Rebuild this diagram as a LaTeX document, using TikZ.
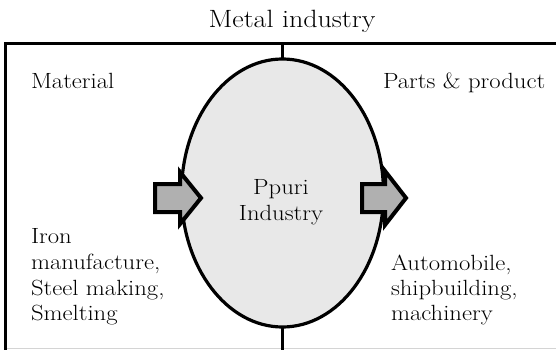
\documentclass[tikz,border=0pt]{standalone}
\usepackage{fontspec}
\setmainfont{Latin Modern Roman}[FakeStretch=1.12]
\usetikzlibrary{shapes.geometric}
\definecolor{corefill}{HTML}{E8E8E8}
\definecolor{arrowfill}{HTML}{B0B0B0}
\definecolor{edgegray}{HTML}{D4D4D4}
\begin{document}
\begin{tikzpicture}[x=1pt,y=-1pt,
  frame/.style={line width=3pt,miter limit=10},
  label/.style={inner sep=0pt,outer sep=0pt,align=left,
    font=\fontsize{22}{25.5}\selectfont},
  heading/.style={inner sep=0pt,outer sep=0pt,
    font=\fontsize{25}{30}\selectfont},
  core/.style={ellipse,draw,line width=3.2pt,fill=corefill,
    minimum width=202pt,minimum height=268pt,inner sep=0pt,outer sep=0pt},
  blockarrow/.style={draw,line width=4pt,fill=arrowfill,line join=miter,miter limit=10}
]
\useasboundingbox (0,0) rectangle (556,350);

% outer frame (top and left edges) and the faint lower edge
\coordinate (frameTL) at (5.5,44);
\draw[edgegray,line width=1pt] (7,348.5) -- (556,348.5);
\draw[frame] (5.5,352) -- (frameTL) -- (560,44);

% central ellipse with the dividing line through it
\node[core] (core) at (282.5,193) {};
\coordinate (divTop) at (282.5,44);
\coordinate (divBot) at (282.5,352);
\draw[line width=3pt] (divTop) -- (core.north);
\draw[line width=3pt] (core.south) -- (divBot);

% block arrows entering and leaving the ellipse
\coordinate (inArrow) at (155,198);
\coordinate (outArrow) at (362,198);
\draw[blockarrow] (inArrow) ++(0,-14) -- ++(25,0) -- ++(0,-12) -- ++(21,26)
  -- ++(-21,26) -- ++(0,-12) -- ++(-25,0) -- cycle;
\draw[blockarrow] (outArrow) ++(0,-14) -- ++(23,0) -- ++(0,-13) -- ++(21,27)
  -- ++(-21,27) -- ++(0,-13) -- ++(-23,0) -- cycle;

% texts
\node[heading,anchor=base] (title) at (292,28) {Metal industry};
\node[label,anchor=base west] (material) at (31,89) {Material};
\node[label,anchor=base west] (parts) at (383,89) {Parts \& product};
\node[label,anchor=base] (ppuri) at (281,194) {Ppuri};
\node[label,anchor=base] (ppuri2) at (281,220) {Industry};
\node[label,anchor=base west] (iron1) at (31,243) {Iron};
\node[label,anchor=base west] (iron2) at (31,269) {manufacture,};
\node[label,anchor=base west] (iron3) at (31,295) {Steel making,};
\node[label,anchor=base west] (iron4) at (31,320) {Smelting};
\node[label,anchor=base west] (auto1) at (391,270) {Automobile,};
\node[label,anchor=base west] (auto2) at (391,295) {shipbuilding,};
\node[label,anchor=base west] (auto3) at (391,320) {machinery};
\end{tikzpicture}
\end{document}
